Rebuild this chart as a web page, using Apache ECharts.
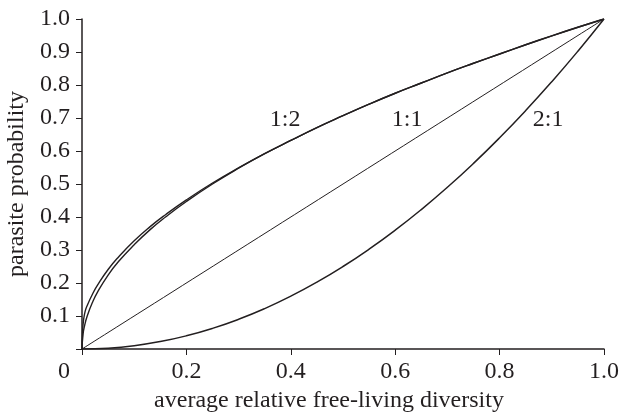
<!DOCTYPE html>
<html>
<head>
<meta charset="utf-8">
<script src="https://cdn.jsdelivr.net/npm/echarts@6/dist/echarts.min.js"></script>
<style>html,body{margin:0;padding:0;background:#fff;}#c{width:620px;height:415px;}</style>
</head>
<body>
<div id="c"></div>
<script>
// x-axis tick values / labels
var xTicks = [0, 0.2, 0.4, 0.6, 0.8, 1.0];
var yTicks = [0, 0.1, 0.2, 0.3, 0.4, 0.5, 0.6, 0.7, 0.8, 0.9, 1.0];

// 1:1 line
var line11 = [[0, 0], [1, 1]];

// 1:2 curve (inner)
var curve12a = [[0,0],[0.002,0.045],[0.005,0.071],[0.01,0.1],[0.02,0.141],[0.03,0.173],[0.05,0.224],[0.07,0.265],
  [0.1,0.316],[0.13,0.361],[0.16,0.4],[0.2,0.447],[0.25,0.5],[0.3,0.548],[0.35,0.592],[0.4,0.632],[0.45,0.671],
  [0.5,0.707],[0.55,0.742],[0.6,0.775],[0.65,0.806],[0.7,0.837],[0.75,0.866],[0.8,0.894],[0.85,0.922],
  [0.9,0.949],[0.95,0.975],[1,1]];

// 1:2 curve (outer, separates near origin)
var curve12b = [[0,0],[0.001,0.05],[0.003,0.088],[0.006,0.114],[0.01,0.132],[0.02,0.166],[0.03,0.194],[0.05,0.241],[0.07,0.279],
  [0.1,0.328],[0.13,0.37],[0.16,0.407],[0.2,0.452],[0.25,0.503],[0.3,0.549],[0.35,0.592],[0.4,0.632],[0.45,0.671],
  [0.5,0.707],[0.55,0.742],[0.6,0.775],[0.65,0.806],[0.7,0.837],[0.75,0.866],[0.8,0.894],[0.85,0.922],
  [0.9,0.949],[0.95,0.975],[1,1]];

// 2:1 curve
var curve21 = [[0,0],[0.05,0.0025],[0.1,0.01],[0.15,0.0225],[0.2,0.04],[0.25,0.0625],[0.3,0.09],[0.35,0.1225],
  [0.4,0.16],[0.45,0.2025],[0.5,0.25],[0.55,0.3025],[0.6,0.36],[0.65,0.4225],[0.7,0.49],[0.75,0.5625],
  [0.8,0.64],[0.85,0.7225],[0.9,0.81],[0.95,0.9025],[1,1]];

// curve annotations
var annotations = [
  {name: '1:2', value: [0.389, 0.694]},
  {name: '1:1', value: [0.623, 0.694]},
  {name: '2:1', value: [0.893, 0.694]}
];

var ink = '#231f20';
var font = '"Liberation Serif", "Times New Roman", serif';
var fs = 24;

function lineSeries(data, w) {
  return {type: 'line', data: data, smooth: true, showSymbol: false, symbol: 'none',
    lineStyle: {color: ink, width: w}, animation: false, silent: true};
}

var chart = echarts.init(document.getElementById('c'), null, {renderer: 'canvas'});
chart.setOption({
  backgroundColor: '#fff',
  animation: false,
  grid: {left: 82, right: 16, top: 19, bottom: 66, containLabel: false, outerBoundsMode: 'none'},
  xAxis: {
    type: 'value', min: 0, max: 1, interval: 0.2,
    name: 'average relative free-living diversity', nameLocation: 'middle', nameGap: 34,
    nameTextStyle: {fontFamily: font, fontSize: fs, color: ink, padding: [0, 28, 0, 0]},
    axisLine: {show: true, lineStyle: {color: ink, width: 1.5}},
    axisTick: {show: true, length: 6, lineStyle: {color: ink, width: 1}},
    splitLine: {show: false},
    axisLabel: {
      margin: 11, fontFamily: font, fontSize: fs, color: ink,
      formatter: function (v) {
        if (v === 0) return '{z|0}';
        return v.toFixed(1);
      },
      rich: {z: {fontFamily: font, fontSize: fs, color: ink, padding: [0, 36, 0, 0]}}
    }
  },
  yAxis: {
    type: 'value', min: 0, max: 1, interval: 0.1,
    name: 'parasite probability', nameLocation: 'middle', nameGap: 50, nameRotate: 90,
    nameTextStyle: {fontFamily: font, fontSize: fs, color: ink},
    axisLine: {show: true, lineStyle: {color: ink, width: 1.5}},
    axisTick: {show: true, length: 6, lineStyle: {color: ink, width: 1}},
    splitLine: {show: false},
    axisLabel: {
      margin: 12, fontFamily: font, fontSize: fs, color: ink,
      formatter: function (v) { return v === 0 ? '' : v.toFixed(1); }
    }
  },
  series: [
    lineSeries(line11, 1),
    lineSeries(curve12a, 1.4),
    lineSeries(curve12b, 1.4),
    lineSeries(curve21, 1.5),
    {
      type: 'scatter', data: annotations, symbolSize: 0, silent: true,
      itemStyle: {opacity: 1},
      label: {show: true, position: 'inside', formatter: '{b}', fontFamily: font, fontSize: fs, color: ink, opacity: 1}
    }
  ]
});
</script>
</body>
</html>
